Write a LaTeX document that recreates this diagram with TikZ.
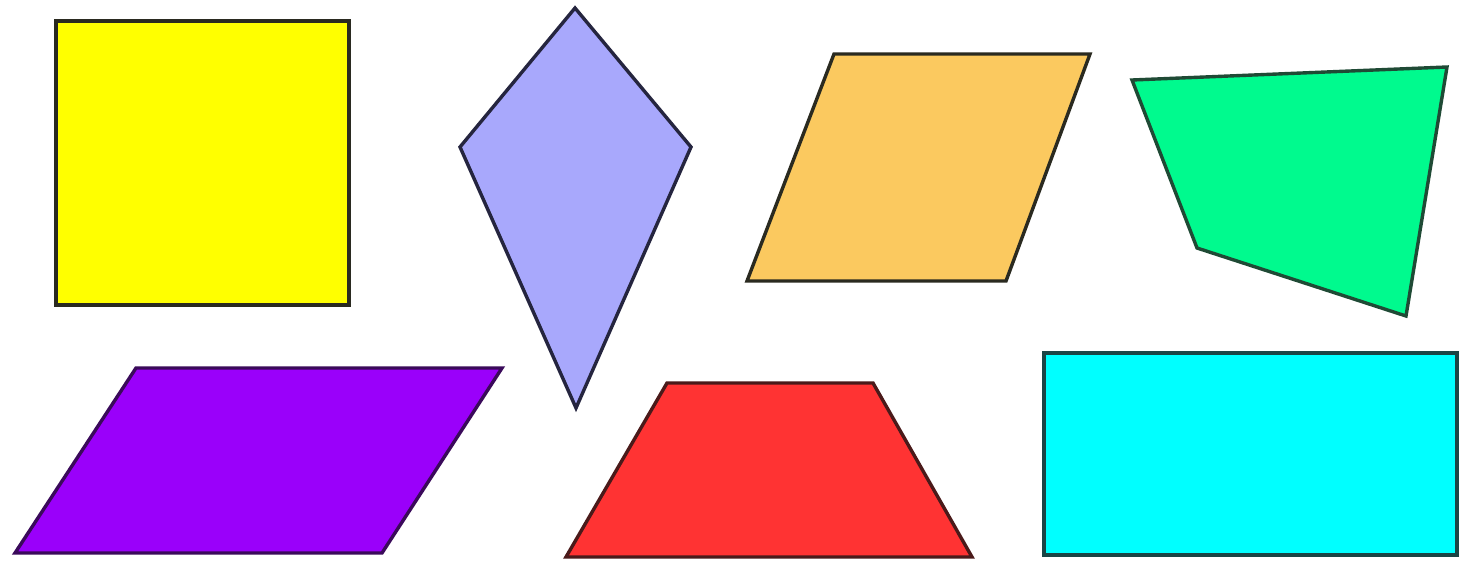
\documentclass[tikz,border=0pt]{standalone}
\usepackage{tikz}
\definecolor{cyellow}{HTML}{FFFF00}
\definecolor{ckite}{HTML}{A8A8FC}
\definecolor{corange}{HTML}{FBC95F}
\definecolor{cgreen}{HTML}{00FA8E}
\definecolor{cpurple}{HTML}{9A00FA}
\definecolor{cred}{HTML}{FF3333}
\definecolor{ccyan}{HTML}{00FFFF}
\definecolor{edgedark}{HTML}{2A2A20}
\definecolor{edgekite}{HTML}{25253F}
\definecolor{edgegreen}{HTML}{1F4A35}
\definecolor{edgepurple}{HTML}{3A0A5A}
\definecolor{edgered}{HTML}{4A1A1A}
\definecolor{edgecyan}{HTML}{1A4545}
\tikzset{
  shapeline/.style={line width=3.4pt, line join=miter},
}
\begin{document}
\begin{tikzpicture}[x=1pt,y=-1pt]
\useasboundingbox[fill=white] (0,0) rectangle (1461,563);
% yellow square
\draw[shapeline, draw=edgedark, fill=cyellow] (56,21) rectangle (349,305);
% kite
\draw[shapeline, draw=edgekite, fill=ckite] (575,8) -- (691,147) -- (576,408) -- (460,147) -- cycle;
% orange parallelogram
\draw[shapeline, draw=edgedark, fill=corange] (834,54) -- (1090,54) -- (1006,281) -- (747,281) -- cycle;
% green quadrilateral
\draw[shapeline, draw=edgegreen, fill=cgreen] (1132,80) -- (1447,67) -- (1406,316) -- (1197,248) -- cycle;
% purple parallelogram
\draw[shapeline, draw=edgepurple, fill=cpurple] (136,368) -- (502,368) -- (382,553) -- (15,553) -- cycle;
% red trapezoid
\draw[shapeline, draw=edgered, fill=cred] (667,383) -- (873,383) -- (972,557) -- (566,557) -- cycle;
% cyan rectangle
\draw[shapeline, draw=edgecyan, fill=ccyan] (1044,353) rectangle (1457,555);
\end{tikzpicture}
\end{document}
